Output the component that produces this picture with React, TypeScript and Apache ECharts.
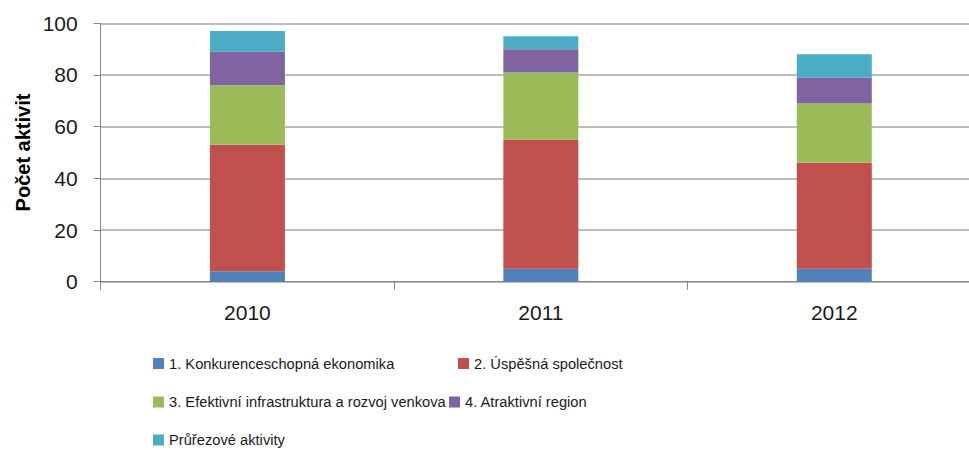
import React, { useEffect, useRef } from "react";
import * as echarts from "echarts";

const categories = ["2010", "2011", "2012"];
const seriesNames = [
  "1. Konkurenceschopná ekonomika",
  "2. Úspěšná společnost",
  "3. Efektivní infrastruktura a rozvoj venkova",
  "4. Atraktivní region",
  "Průřezové aktivity",
];
const konkurenceschopna = [4, 5, 5];
const uspesna = [49, 50, 41];
const infrastruktura = [23, 26, 23];
const atraktivni = [13, 9, 10];
const prurezove = [8, 5, 9];
const yTicks = [0, 20, 40, 60, 80, 100];

const colors = ["#4F81BD", "#C0504D", "#9BBB59", "#8064A2", "#4BACC6"];
const FONT = "Liberation Sans, Arial, sans-serif";

export default function App() {
  const ref = useRef<HTMLDivElement>(null);
  useEffect(() => {
    if (!ref.current) return;
    const chart = echarts.init(ref.current, null, { renderer: "svg" });
    const values = [konkurenceschopna, uspesna, infrastruktura, atraktivni, prurezove];
    const legendPos = [
      { left: 153, cy: 363.5 },
      { left: 458, cy: 363.5 },
      { left: 153, cy: 402 },
      { left: 449, cy: 402 },
      { left: 153, cy: 440 },
    ];
    chart.setOption({
      animation: false,
      color: colors,
      grid: { left: 100.7, right: 0, top: 23.3, bottom: 168.3, containLabel: false },
      legend: seriesNames.map((n, i) => ({
        data: [n],
        left: legendPos[i].left,
        top: legendPos[i].cy - 9,
        padding: 0,
        itemWidth: 11,
        itemHeight: 11,
        icon: "rect",
        selectedMode: false,
        textStyle: { fontFamily: FONT, fontSize: 14.7, color: "#1a1a1a", lineHeight: 18 },
      })),
      xAxis: {
        type: "category",
        data: categories,
        axisLine: { lineStyle: { color: "#868686", width: 1 } },
        axisTick: { show: true, length: 8, alignWithLabel: false, lineStyle: { color: "#868686" } },
        axisLabel: { fontFamily: FONT, fontSize: 21, color: "#1a1a1a", margin: 20 },
      },
      yAxis: {
        type: "value",
        min: yTicks[0],
        max: yTicks[yTicks.length - 1],
        interval: 20,
        name: "Počet aktivit",
        nameLocation: "middle",
        nameGap: 68,
        nameMoveOverlap: false,
        nameRotate: 90,
        nameTextStyle: { fontFamily: FONT, fontSize: 20, fontWeight: "bold", color: "#000" },
        axisLine: { show: true, lineStyle: { color: "#868686", width: 1 } },
        axisTick: { show: true, length: 7, lineStyle: { color: "#868686" } },
        axisLabel: { fontFamily: FONT, fontSize: 21, color: "#1a1a1a", margin: 23 },
        splitLine: { show: true, lineStyle: { color: "#a6a6a6", width: 1.5 } },
      },
      series: seriesNames.map((n, i) => ({
        name: n,
        type: "bar",
        stack: "total",
        barWidth: 75,
        data: values[i],
        itemStyle: { color: colors[i] },
      })),
    });
    return () => chart.dispose();
  }, []);
  return (
    <div style={{ position: "absolute", left: 0, top: 0, width: 969, height: 450, overflow: "hidden", background: "#fff" }}>
      <div ref={ref} style={{ width: 981, height: 450 }} />
    </div>
  );
}
